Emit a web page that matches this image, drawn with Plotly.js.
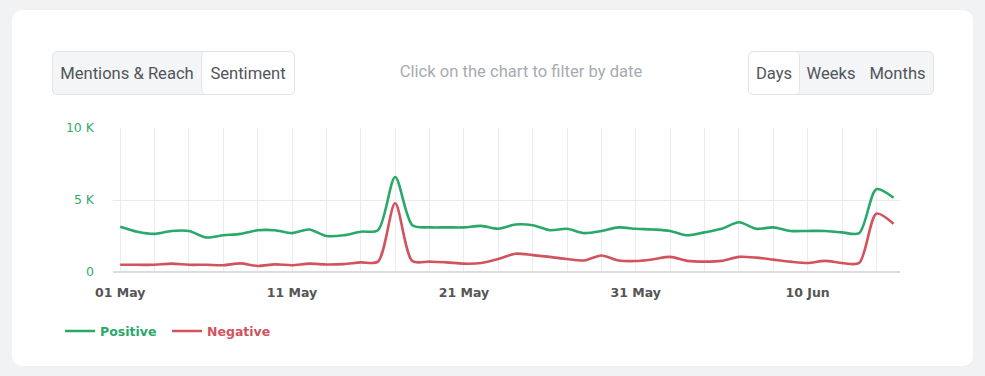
<!DOCTYPE html>
<html>
<head>
<meta charset="utf-8">
<script src="https://cdn.plot.ly/plotly-3.0.1.min.js"></script>
<style>
  html, body { margin:0; padding:0; background:#f1f2f4; width:985px; height:376px; overflow:hidden; font-family: Roboto, "Open Sans", sans-serif; }
  #card { position:absolute; left:12px; top:10px; width:961px; height:356px; background:#fff; border-radius:10px; }
  #chart { position:absolute; left:0; top:0; width:985px; height:376px; }
  .grp { position:absolute; top:51px; height:44px; border:1px solid #e2e4e8; border-radius:5px; background:#f4f5f7; display:flex; box-sizing:border-box; overflow:hidden; }
  .btn { height:100%; display:flex; align-items:center; justify-content:center; font-size:16.6px; color:#50555b; box-sizing:border-box; }
  .btn.on { background:#fff; border-radius:5px; }
  #hint { position:absolute; left:300px; width:442px; top:62px; text-align:center; font-size:16.6px; color:#a7abb1; }
</style>
</head>
<body>
<div id="card"></div>
<div class="grp" style="left:52px; width:243px;">
  <div class="btn" style="width:148px;">Mentions &amp; Reach</div>
  <div class="btn on" style="width:93px; border-left:1px solid #e2e4e8;">Sentiment</div>
</div>
<div id="hint">Click on the chart to filter by date</div>
<div class="grp" style="left:748px; width:186px;">
  <div class="btn on" style="width:51px; border-right:1px solid #e2e4e8;">Days</div>
  <div class="btn" style="width:62px;">Weeks</div>
  <div class="btn" style="width:71px;">Months</div>
</div>
<div id="chart"></div>
<script>
// Dates: 01 May .. 15 Jun (daily)
const nDays = 46;
const dates = [];
for (let i = 0; i < nDays; i++) {
  const d = new Date(Date.UTC(2023, 4, 1 + i));
  dates.push(d.toISOString().slice(0, 10));
}

const positive = [3150, 2800, 2650, 2850, 2850, 2400, 2550, 2650, 2900, 2900,
                  2700, 2950, 2500, 2550, 2800, 2900, 6600, 3250, 3100, 3100,
                  3100, 3200, 3000, 3300, 3250, 2900, 3000, 2700, 2850, 3100,
                  3000, 2950, 2850, 2550, 2750, 3000, 3450, 3000, 3100, 2850,
                  2850, 2850, 2750, 2700, 5750, 5150];

const negative = [500, 500, 500, 580, 500, 500, 470, 600, 420, 530,
                  470, 580, 520, 550, 670, 720, 4770, 760, 720, 670,
                  580, 620, 900, 1270, 1170, 1050, 900, 800, 1150, 800,
                  760, 880, 1050, 770, 720, 770, 1050, 1000, 860, 720,
                  630, 770, 630, 630, 4050, 3350];

const yTickVals = [0, 5000, 10000];
const yTickText = ['0', '5 K', '10 K'];

const green = '#2aa868';
const red = '#d0535e';

const traces = [
  { x: dates, y: positive, type: 'scatter', mode: 'lines', name: '<b>Positive</b>',
    line: { color: green, width: 2.6, shape: 'spline', smoothing: 0.8 }, hoverinfo: 'x+y' },
  { x: dates, y: negative, type: 'scatter', mode: 'lines', name: '<b>Negative</b>',
    line: { color: red, width: 2.6, shape: 'spline', smoothing: 0.8 }, hoverinfo: 'x+y' }
];

const layout = {
  width: 985, height: 376,
  paper_bgcolor: 'rgba(0,0,0,0)', plot_bgcolor: 'rgba(0,0,0,0)',
  margin: { l: 113, r: 85, t: 128, b: 104 },
  font: { family: 'DejaVu Sans, Verdana, sans-serif' },
  showlegend: true,
  legend: {
    orientation: 'h', x: -0.0673, xanchor: 'left', y: -0.308, yanchor: 'top',
    xref: 'paper', font: { size: 12.5, color: '#333' }, itemwidth: 30,
    entrywidth: 62, entrywidthmode: 'pixels',
    bgcolor: 'rgba(0,0,0,0)'
  },
  xaxis: {
    type: 'date',
    range: ['2023-04-30 14:00', '2023-06-15 09:00'],
    tick0: '2023-05-01', dtick: 10 * 86400000,
    tickformat: '%d %b',
    showgrid: true, gridcolor: '#ebebeb', gridwidth: 1,
    minor: { tick0: '2023-05-01', dtick: 2 * 86400000, showgrid: true, gridcolor: '#ebebeb', gridwidth: 1 },
    showline: false, zeroline: false, ticks: '',
    tickfont: { size: 12.5, color: '#555', weight: 'bold' },
    ticklabelstandoff: 11,
    fixedrange: true
  },
  yaxis: {
    range: [0, 10000],
    tickvals: yTickVals, ticktext: yTickText,
    showgrid: true, gridcolor: '#ebebeb', gridwidth: 1,
    zeroline: true, zerolinecolor: '#dcdcdc', zerolinewidth: 2,
    showline: false, ticks: '',
    tickfont: { size: 12.5, color: '#35a96f' },
    ticklabelstandoff: 18,
    fixedrange: true
  }
};

Plotly.newPlot('chart', traces, layout, { displayModeBar: false, responsive: false }).then(function () {
  const texts = document.querySelectorAll('#chart .legendtext');
  const cols = [green, red];
  texts.forEach((t, i) => { t.style.fill = cols[i]; });
});
</script>
</body>
</html>
